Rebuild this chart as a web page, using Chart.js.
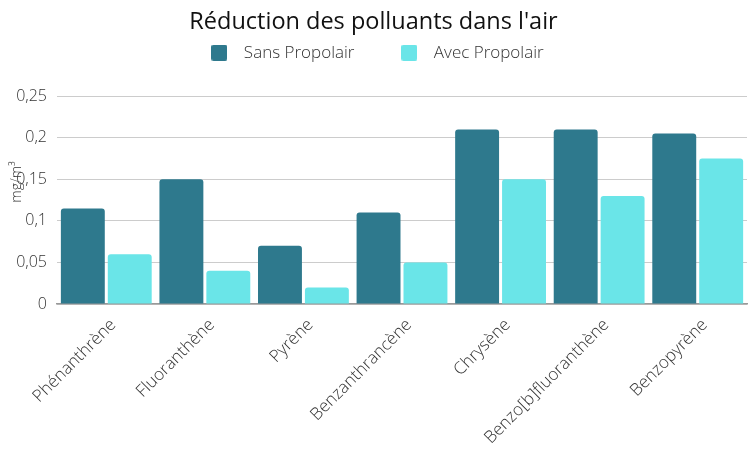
<!DOCTYPE html>
<html>
<head>
<meta charset="utf-8">
<script src="https://cdn.jsdelivr.net/npm/chart.js@4"></script>
<style>
html,body{margin:0;padding:0;background:#fff;}
#wrap{width:750px;height:450px;}
</style>
</head>
<body>
<div id="wrap"><canvas id="c"></canvas></div>
<script>
const categories = ["Phénanthrène","Fluoranthène","Pyrène","Benzanthrancène","Chrysène","Benzo[b]fluoranthène","Benzopyrène"];
const sansPropolair = [0.115,0.15,0.07,0.11,0.21,0.21,0.205];
const avecPropolair = [0.06,0.04,0.02,0.05,0.15,0.13,0.175];
const seriesNames = ["Sans Propolair","Avec Propolair"];
const seriesColors = ["#2E798D","#6AE5E8"];
const yTickLabels = {"0":"0","0.05":"0,05","0.1":"0,1","0.15":"0,15","0.2":"0,2","0.25":"0,25"};

function boxImg(color){
  const cv=document.createElement('canvas');
  cv.width=16;cv.height=16;
  const g=cv.getContext('2d');
  g.fillStyle=color;
  g.beginPath();
  if(g.roundRect){g.roundRect(0,0,16,16,2);}else{g.rect(0,0,16,16);}
  g.fill();
  return cv;
}
const boxes=seriesColors.map(boxImg);
const FONT="'Open Sans', sans-serif";

const legendSpacer={
  id:'legendSpacer',
  beforeUpdate(chart){
    const lg=chart.legend;
    if(lg && !lg._patched){
      const f=lg.fit;
      lg.fit=function(){f.call(this); this.height+=25;};
      lg._patched=true;
    }
  }
};

new Chart(document.getElementById('c'),{
  type:'bar',
  data:{
    labels:categories,
    datasets:[
      {label:seriesNames[0],data:sansPropolair,backgroundColor:seriesColors[0],borderRadius:3,borderSkipped:'bottom'},
      {label:seriesNames[1],data:avecPropolair,backgroundColor:seriesColors[1],borderRadius:3,borderSkipped:'bottom'}
    ]
  },
  plugins:[legendSpacer],
  options:{
    responsive:true,
    maintainAspectRatio:false,
    animation:false,
    layout:{padding:{left:0,right:3,top:0,bottom:0}},
    datasets:{bar:{categoryPercentage:0.952,barPercentage:0.936}},
    plugins:{
      title:{display:true,text:"Réduction des polluants dans l'air",color:'#111',
        font:{family:FONT,size:23.5,weight:'normal'},padding:{top:8,bottom:0}},
      legend:{position:'top',
        labels:{usePointStyle:true,pointStyleWidth:32,padding:8,color:'#333',
          font:{family:FONT,size:17,weight:'300'},
          generateLabels:function(chart){
            const items=Chart.defaults.plugins.legend.labels.generateLabels(chart);
            items.forEach((it,i)=>{it.pointStyle=boxes[i]; if(i<items.length-1) it.text=it.text+'       ';});
            return items;
          }}},
      tooltip:{enabled:false}
    },
    scales:{
      x:{
        grid:{display:false,drawTicks:false},
        border:{display:true,color:'#999',width:1.5},
        ticks:{color:'#333',font:{family:FONT,size:17,weight:'300'},maxRotation:45,minRotation:45,padding:11,labelOffset:7},
        afterFit(s){s.height=146;}
      },
      y:{
        min:0,max:0.25,
        grid:{color:'#ccc',drawTicks:false},
        border:{display:false},
        ticks:{stepSize:0.05,color:'#333',padding:10,font:{family:FONT,size:16,weight:'300'},
          callback:function(v){const k=String(Math.round(v*100)/100);return yTickLabels[k]!==undefined?yTickLabels[k]:k.replace('.',',');}},
        title:{display:true,text:'          mg/m³',color:'#333',font:{family:FONT,size:14,weight:'300'},padding:{top:9,bottom:0}},
        afterFit(s){s.width=57;}
      }
    }
  }
});
</script>
</body>
</html>
